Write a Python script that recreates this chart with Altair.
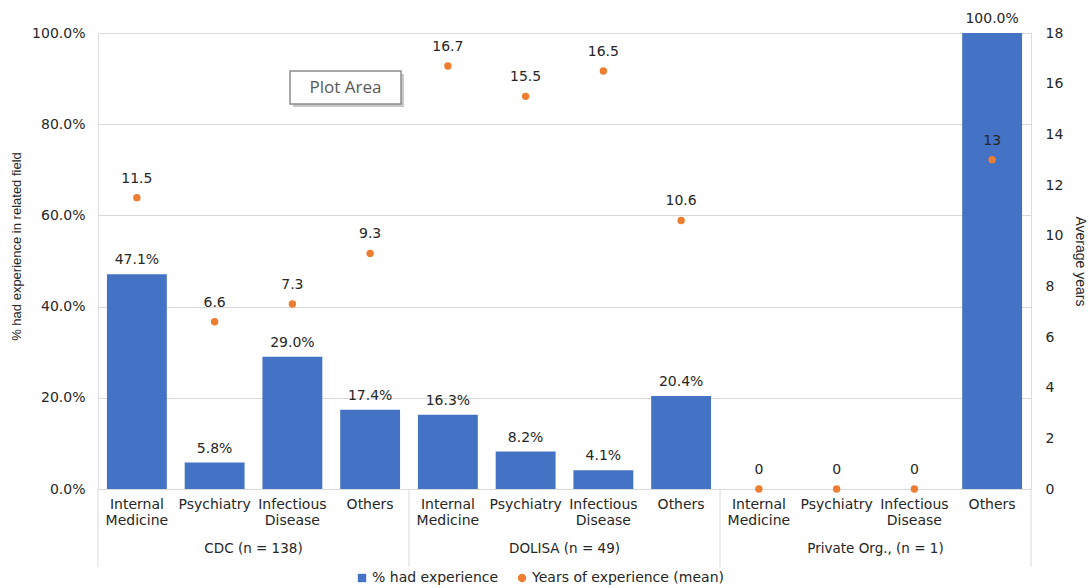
import altair as alt
import pandas as pd

# Survey data: share of staff with experience in a related field, and mean years of it
groups = ["CDC (n = 138)"] * 4 + ["DOLISA (n = 49)"] * 4 + ["Private Org., (n = 1)"] * 4
fields = ["Internal\nMedicine", "Psychiatry", "Infectious\nDisease", "Others"] * 3
pct_experience = [47.1, 5.8, 29.0, 17.4, 16.3, 8.2, 4.1, 20.4, 0.0, 0.0, 0.0, 100.0]
years_mean = [11.5, 6.6, 7.3, 9.3, 16.7, 15.5, 16.5, 10.6, 0, 0, 0, 13]

BLUE = "#4472C4"
ORANGE = "#ED7D31"
TEXT = "#262626"
FONT = "DejaVu Sans"
SERIES = ["% had experience", "Years of experience (mean)"]

keys = [f"c{i:02d}" for i in range(len(fields))]
df = pd.DataFrame({
    "key": keys,
    "group": groups,
    "field": fields,
    "pct": pct_experience,
    "years": years_mean,
    "pct_label": [f"{v:.1f}%" if v > 0 else "" for v in pct_experience],
    "years_label": [f"{v:g}" for v in years_mean],
})

W, H = 933, 456
PAD_IN = 0.23
# half of the gap between two bars, in pixels (step is W / n with outer padding = PAD_IN / 2)
HALF_GAP = W / len(keys) * PAD_IN / 2

band = alt.Scale(domain=keys, paddingInner=PAD_IN, paddingOuter=PAD_IN / 2)
x_enc = alt.X("key:N", scale=band, axis=None)

color_scale = alt.Scale(domain=SERIES, range=[BLUE, ORANGE])
shape_scale = alt.Scale(domain=SERIES, range=["square", "circle"])

# Bars on the left (percentage) axis
pct_scale = alt.Scale(domain=[0, 100], nice=False)
pct_y = alt.Y(
    "pct:Q",
    scale=pct_scale,
    axis=alt.Axis(
        orient="left", values=[0, 20, 40, 60, 80, 100],
        labelExpr="format(datum.value, '.1f') + '%'",
        grid=True, gridColor="#d9d9d9", domain=False, ticks=False,
        labelFont=FONT, labelFontSize=14, labelColor=TEXT, labelPadding=13,
        title="% had experience in related field", titleFont="Liberation Sans", titleFontSize=13,
        titleFontWeight="normal", titleColor=TEXT, titlePadding=8, titleY=213,
    ),
)
bars = alt.Chart(df).mark_bar(color=BLUE).encode(x=x_enc, y=pct_y)
bar_labels = alt.Chart(df).mark_text(dy=-14, font=FONT, fontSize=14, color=TEXT).encode(
    x=x_enc, y=alt.Y("pct:Q", scale=pct_scale), text="pct_label:N"
)
pct_layer = alt.layer(bars, bar_labels)

# Points on the right (years) axis
yrs_scale = alt.Scale(domain=[0, 18], nice=False)
yrs_y = alt.Y(
    "years:Q",
    scale=yrs_scale,
    axis=alt.Axis(
        orient="right", values=list(range(0, 19, 2)),
        grid=False, domain=False, ticks=False,
        labelFont=FONT, labelFontSize=14, labelColor=TEXT, labelPadding=14,
        title="Average years", titleFont="Liberation Sans", titleFontSize=14,
        titleFontWeight="normal", titleColor=TEXT, titlePadding=10,
    ),
)
legend = alt.Legend(
    title=None, orient="none", direction="horizontal", legendX=257, legendY=538,
    labelFont=FONT, labelFontSize=14, labelColor=TEXT, labelLimit=0, symbolSize=70,
    columnPadding=16, labelOffset=3, padding=0,
)
points = alt.Chart(df).mark_point(filled=True, size=55, opacity=1).transform_calculate(
    series="'Years of experience (mean)'"
).encode(
    x=x_enc,
    y=yrs_y,
    color=alt.Color("series:N", scale=color_scale, legend=legend),
    shape=alt.Shape("series:N", scale=shape_scale, legend=legend),
)
year_labels = alt.Chart(df).mark_text(dy=-19, font=FONT, fontSize=14, color=TEXT).encode(
    x=x_enc, y=alt.Y("years:Q", scale=yrs_scale), text="years_label:N"
)
yrs_layer = alt.layer(points, year_labels)

# Category and group labels under the axis
cat_labels = alt.Chart(df).mark_text(
    lineBreak="\n", baseline="top", font=FONT, fontSize=14, lineHeight=16, color=TEXT
).encode(x=x_enc, y=alt.value(H + 9), text="field:N")

group_mid = df.iloc[[1, 5, 9]]
group_labels = alt.Chart(group_mid).mark_text(
    baseline="middle", font=FONT, fontSize=13.5, color=TEXT, xOffset=HALF_GAP
).encode(x=alt.X("key:N", bandPosition=1, scale=band, axis=None),
         y=alt.value(H + 60), text="group:N")

group_starts = df.iloc[[0, 4, 8]]
sep_start = alt.Chart(group_starts).mark_rule(color="#d9d9d9", strokeWidth=1, xOffset=-HALF_GAP).encode(
    x=alt.X("key:N", bandPosition=0, scale=band, axis=None),
    y=alt.value(H), y2=alt.value(H + 78),
)
sep_end = alt.Chart(df.iloc[[11]]).mark_rule(color="#d9d9d9", strokeWidth=1, xOffset=HALF_GAP).encode(
    x=alt.X("key:N", bandPosition=1, scale=band, axis=None),
    y=alt.value(H), y2=alt.value(H + 78),
)

# "Plot Area" tag box
tag_shadow = alt.Chart(df.iloc[[0]]).mark_rect(color="#c8c8c8").encode(
    x=alt.value(195), x2=alt.value(306), y=alt.value(41), y2=alt.value(74)
)
tag_box = alt.Chart(df.iloc[[0]]).mark_rect(fill="white", stroke="#8c8c8c", strokeWidth=1.5).encode(
    x=alt.value(192), x2=alt.value(303), y=alt.value(38), y2=alt.value(71)
)
tag_text = alt.Chart(df.iloc[[0]]).mark_text(
    font="Open Sans", fontSize=17, color="#595959", baseline="middle"
).encode(x=alt.value(247.5), y=alt.value(55), text=alt.value("Plot Area"))

chart = alt.layer(
    sep_start, sep_end, pct_layer, yrs_layer, cat_labels, group_labels,
    tag_shadow, tag_box, tag_text,
).resolve_scale(y="independent").properties(
    width=W, height=H,
    padding={"left": 98, "top": 33, "right": 58, "bottom": 99},
    autosize=alt.AutoSizeParams(type="none"),
).configure_view(stroke=None).configure(background="white")

chart.save("out.html", embed_options={"renderer": "svg", "actions": False})
